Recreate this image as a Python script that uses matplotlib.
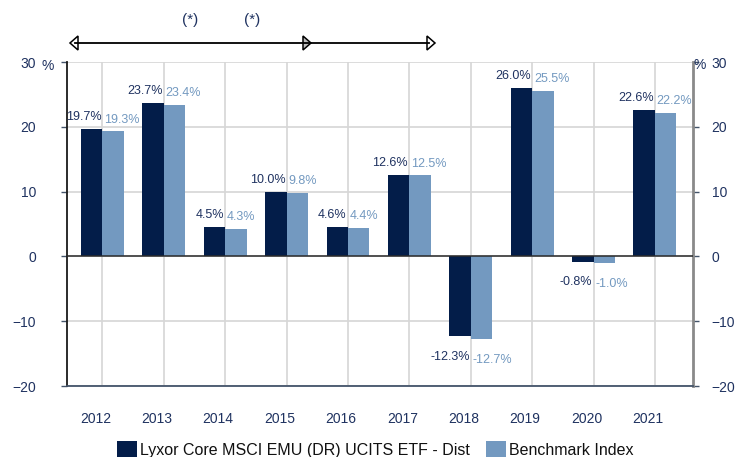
import numpy as np
import matplotlib
matplotlib.use("Agg")
import matplotlib.pyplot as plt
from matplotlib.patches import Polygon, Patch
from matplotlib.lines import Line2D
from matplotlib.transforms import ScaledTranslation

plt.rcParams['font.family'] = ['Liberation Sans', 'DejaVu Sans']

# Data
years = ['2012', '2013', '2014', '2015', '2016', '2017', '2018', '2019', '2020', '2021']
fund = [19.7, 23.7, 4.5, 10.0, 4.6, 12.6, -12.3, 26.0, -0.8, 22.6]
bench = [19.3, 23.4, 4.3, 9.8, 4.4, 12.5, -12.7, 25.5, -1.0, 22.2]
series_names = ['Lyxor Core MSCI EMU (DR) UCITS ETF - Dist', 'Benchmark Index']

dark = '#031d49'
light = '#7399c0'
text_col = '#1f3260'

fig = plt.figure(figsize=(7.36, 4.57), dpi=100)
ax = fig.add_axes([66.5 / 736, 1 - 386 / 457, (693 - 66.5) / 736, (386 - 62) / 457])

x = np.arange(len(years))
w = 0.35
ax.bar(x - w / 2, fund, w, color=dark, zorder=3)
ax.bar(x + w / 2, bench, w, color=light, zorder=3)

# value labels: fund right-aligned, benchmark left-aligned around the year line
for i in range(len(years)):
    for v, col, ha, dx in [(fund[i], text_col, 'right', -0.02), (bench[i], light, 'left', 0.03)]:
        off = 8.5 if v >= 0 else -15
        ax.annotate(f'{v:.1f}%', (x[i] + dx, v), xytext=(0, off), textcoords='offset points',
                    ha=ha, va='center', fontsize=9, color=col, zorder=5)

ax.set_xlim(-0.586, 9.62)
ax.set_ylim(-20, 30)
ax.set_yticks([-20, -10, 0, 10, 20, 30])
ax.set_xticks(x)
ax.set_xticklabels(years)
ax.grid(True, color='#d6d6d6', linewidth=1.2, zorder=0)
ax.axhline(0, color='#2b2b2b', linewidth=1.1, zorder=4)

ax.tick_params(axis='x', length=0, pad=19, labelsize=10, labelcolor=text_col)
ax.tick_params(axis='y', length=4, width=1, color='#44546a', pad=18, labelsize=10,
               labelcolor=text_col, right=True, labelright=True)
# right labels closer to the spine, year labels a bit left of the grid line
for t in ax.yaxis.get_major_ticks():
    t.label2.set_transform(t.label2.get_transform() + ScaledTranslation(-12 / 100, 0, fig.dpi_scale_trans))
for lab in ax.get_xticklabels():
    lab.set_transform(lab.get_transform() + ScaledTranslation(-7 / 100, 0, fig.dpi_scale_trans))

ax.spines['left'].set_color('#1a1a1a')
ax.spines['left'].set_linewidth(1.3)
ax.spines['right'].set_color('#8a8a8a')
ax.spines['right'].set_linewidth(2)
ax.spines['bottom'].set_color('#44546a')
ax.spines['bottom'].set_linewidth(1.3)
ax.spines['top'].set_visible(False)

# percent signs
fig.text(48 / 736, 1 - 66 / 457, '%', ha='center', va='center', fontsize=10, color=text_col)
fig.text(700 / 736, 1 - 65 / 457, '%', ha='center', va='center', fontsize=10, color=text_col)

# top arrows
def px(xp, yp):
    return (xp / 736, 1 - yp / 457)

ya = 43
fig.add_artist(Line2D([px(75, ya)[0], px(429, ya)[0]], [px(0, ya)[1]] * 2, color='black', linewidth=1.3))
for tip, base in [(70, 78), (311, 303), (435, 427)]:
    tri = Polygon([px(tip, ya), px(base, ya - 7), px(base, ya + 7)], closed=True,
                  facecolor='white' if tip != 311 else '#bdbdbd', edgecolor='black', linewidth=1.1,
                  transform=fig.transFigure)
    fig.add_artist(tri)
fig.text(190 / 736, 1 - 20 / 457, '(*)', ha='center', va='center', fontsize=11, color=text_col)
fig.text(252 / 736, 1 - 20 / 457, '(*)', ha='center', va='center', fontsize=11, color=text_col)

# legend
handles = [Patch(facecolor=dark), Patch(facecolor=light)]
fig.legend(handles, series_names, loc='lower center', bbox_to_anchor=(0.51, -0.033), ncol=2,
           frameon=False, fontsize=11.5, handlelength=1.25, handleheight=1.25, handletextpad=0.2,
           columnspacing=1.0, labelcolor='#111111')

fig.savefig('out.png', dpi=100)
